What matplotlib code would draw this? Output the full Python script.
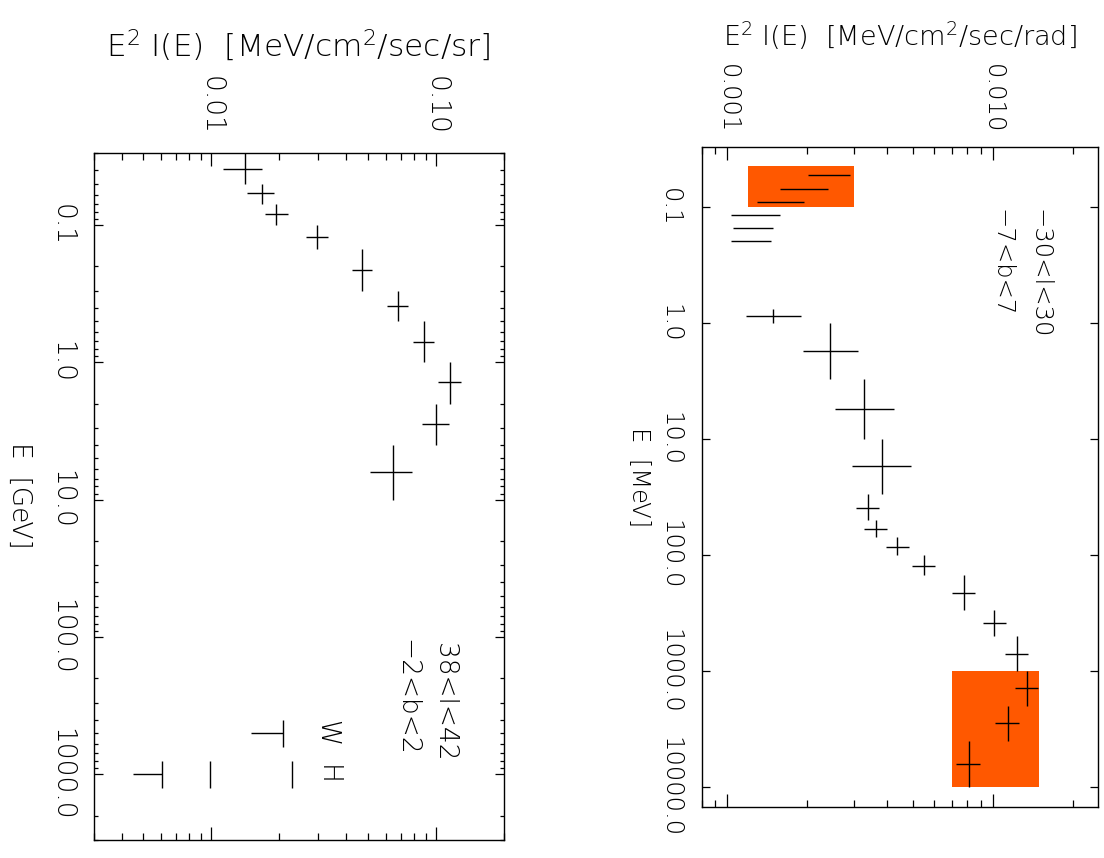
import numpy as np
import matplotlib.pyplot as plt
from matplotlib.ticker import LogLocator, NullLocator, NullFormatter

plt.rcParams['font.family'] = 'DejaVu Sans'
plt.rcParams['font.weight'] = 'light'

# ---- left panel: 38<l<42, -2<b<2, energies in GeV ----
gev_e = [0.039, 0.0588, 0.0836, 0.123, 0.212, 0.386, 0.71, 1.39, 2.8, 6.3]
gev_elo = [0.03, 0.05, 0.07, 0.1, 0.15, 0.3, 0.5, 1.0, 2.0, 4.0]
gev_ehi = [0.05, 0.07, 0.1, 0.15, 0.3, 0.5, 1.0, 2.0, 4.0, 10.0]
gev_flux = [0.0141, 0.0168, 0.0194, 0.0296, 0.0471, 0.0676, 0.0883, 0.1157, 0.100, 0.0645]
gev_flo = [0.0113, 0.0145, 0.0173, 0.0265, 0.0422, 0.0608, 0.0792, 0.1026, 0.0864, 0.051]
gev_fhi = [0.0169, 0.0191, 0.0219, 0.033, 0.052, 0.0752, 0.0982, 0.1287, 0.114, 0.0785]

# TeV upper limits (Whipple / HEGRA)
ul_flux = [0.0208, 0.0229, 0.0099, 0.00605]
ul_e = [500, 1000, 1000, 1000]
ul_elo = [400, 800, 800, 800]
ul_ehi = [630, 1250, 1250, 1250]
ul_tail = [0.0150, None, None, 0.00449]
ul_tags = ['W', 'H']
ul_tag_e = [500, 1000]

# ---- right panel: -30<l<30, -7<b<7, energies in MeV ----
mev_e = [0.87, 1.73, 5.5, 17.0, 39.5, 59.5, 84.5, 123.5, 214, 388, 714, 1413, 2835, 6370]
mev_elo = [0.75, 1.0, 3.0, 10, 30, 50, 70, 100, 150, 300, 500, 1000, 2000, 4000]
mev_ehi = [1.0, 3.0, 10, 30, 50, 70, 100, 150, 300, 500, 1000, 2000, 4000, 10000]
mev_flux = [0.00149, 0.00244, 0.00327, 0.00382, 0.00338, 0.00363, 0.00436,
            0.00551, 0.00776, 0.01015, 0.01234, 0.01347, 0.01138, 0.00812]
mev_flo = [0.00117, 0.00192, 0.00254, 0.00296, 0.00305, 0.00328, 0.00396,
           0.00497, 0.00703, 0.00916, 0.01114, 0.0121, 0.01023, 0.00724]
mev_fhi = [0.00189, 0.00311, 0.00425, 0.00494, 0.00374, 0.0040, 0.00482,
           0.00608, 0.00858, 0.0112, 0.01355, 0.01476, 0.01253, 0.00895]

# low energy flux ranges (no energy bars)
seg_e = [0.053, 0.069, 0.090, 0.117, 0.151, 0.197]
seg_lo = [0.00202, 0.00158, 0.00129, 0.00103, 0.00105, 0.00103]
seg_hi = [0.0029, 0.0024, 0.00195, 0.00158, 0.00148, 0.00146]

box_flux = [(0.0012, 0.003), (0.007, 0.015)]
box_e = [(0.044, 0.1), (1000, 10000)]
box_color = '#ff5800'

W, H = 1104, 858
fig = plt.figure(figsize=(W / 100, H / 100), dpi=100)


def frac(x0, y0, x1, y1):
    return [x0 / W, 1 - y1 / H, (x1 - x0) / W, (y1 - y0) / H]


def style(ax, fs, xmaj, xmin, ymaj, ymin, pad_x, pad_y):
    ax.set_xscale('log')
    ax.set_yscale('log')
    ax.tick_params(axis='x', which='both', direction='in', top=True, bottom=True,
                   labeltop=True, labelbottom=False, labelsize=fs, pad=pad_x,
                   width=0.9, labelrotation=-90)
    ax.tick_params(axis='y', which='both', direction='in', left=True, right=True,
                   labelleft=True, labelsize=fs, pad=pad_y, width=0.9)
    ax.tick_params(axis='x', which='major', length=xmaj)
    ax.tick_params(axis='x', which='minor', length=xmin)
    ax.tick_params(axis='y', which='major', length=ymaj)
    ax.tick_params(axis='y', which='minor', length=ymin)
    ax.xaxis.set_minor_locator(LogLocator(base=10, subs=np.arange(2, 10)))
    ax.xaxis.set_minor_formatter(NullFormatter())
    ax.yaxis.set_minor_formatter(NullFormatter())
    for sp in ax.spines.values():
        sp.set_linewidth(1.0)


def crosses(ax, flux, flo, fhi, e, elo, ehi):
    flux, e = np.array(flux), np.array(e)
    ax.errorbar(flux, e,
                xerr=[flux - np.array(flo), np.array(fhi) - flux],
                yerr=[e - np.array(elo), np.array(ehi) - e],
                fmt='none', ecolor='black', elinewidth=1.0, capsize=0, zorder=3)


# left panel
axl = fig.add_axes(frac(93.6, 153.3, 503.6, 840))
fs_l = 19
style(axl, fs_l, 9.4, 5, 6.2, 2.6, 13, 14)
axl.set_xlim(0.003, 0.2)
axl.set_ylim(3000, 0.03)
axl.set_xticks([0.01, 0.1], labels=['0.01', '0.10'])
axl.set_yticks([0.1, 1, 10, 100, 1000], labels=['0.1', '1.0', '10.0', '100.0', '1000.0'])
axl.yaxis.set_minor_locator(LogLocator(base=10, subs=np.arange(2, 10)))
plt.setp(axl.get_yticklabels(), rotation=-90, va='center')

crosses(axl, gev_flux, gev_flo, gev_fhi, gev_e, gev_elo, gev_ehi)
axl.vlines(ul_flux, ul_elo, ul_ehi, color='black', lw=1.0)
for f, e, t in zip(ul_flux, ul_e, ul_tail):
    if t is not None:
        axl.hlines(e, t, f, color='black', lw=1.0)
for tag, e in zip(ul_tags, ul_tag_e):
    axl.text(0.0328, e, tag, rotation=-90, ha='center', va='center', fontsize=fs_l)
axl.text(0.1092, 110, '38<l<42', rotation=-90, ha='center', va='top', fontsize=fs_l)
axl.text(0.0743, 104, '\u22122<b<2', rotation=-90, ha='center', va='top', fontsize=fs_l)

fig.text(298.6 / W, 1 - 45 / H, r'E$^2$ I(E)  [MeV/cm$^2$/sec/sr]',
         ha='center', va='center', fontsize=22.5)
fig.text(20 / W, 1 - 495 / H, 'E  [GeV]', rotation=-90, ha='center', va='center',
         fontsize=fs_l)

# right panel
axr = fig.add_axes(frac(701.7, 146.7, 1098.3, 807.3))
fs_r = 17.5
style(axr, fs_r, 9.4, 5, 5.6, 0, 9.5, 14)
axr.set_xlim(0.0008, 0.025)
axr.set_ylim(15000, 0.03)
axr.set_xticks([0.001, 0.01], labels=['0.001', '0.010'])
axr.set_yticks([0.1, 1, 10, 100, 1000, 10000],
               labels=['0.1', '1.0', '10.0', '100.0', '1000.0', '10000.0'])
axr.yaxis.set_minor_locator(NullLocator())
plt.setp(axr.get_yticklabels(), rotation=-90, va='center')

for (f0, f1), (e0, e1) in zip(box_flux, box_e):
    axr.fill([f0, f1, f1, f0], [e0, e0, e1, e1], color=box_color, lw=0, zorder=1)

crosses(axr, mev_flux, mev_flo, mev_fhi, mev_e, mev_elo, mev_ehi)
axr.hlines(seg_e, seg_lo, seg_hi, color='black', lw=1.0, zorder=3)
axr.text(0.01496, 0.104, '\u221230<l<30', rotation=-90, ha='center', va='top', fontsize=fs_r)
axr.text(0.0108, 0.104, '\u22127<b<7', rotation=-90, ha='center', va='top', fontsize=fs_r)

fig.text(900 / W, 1 - 35.5 / H, r'E$^2$ I(E)  [MeV/cm$^2$/sec/rad]',
         ha='center', va='center', fontsize=19.5)
fig.text(639 / W, 1 - 477 / H, 'E  [MeV]', rotation=-90, ha='center', va='center',
         fontsize=fs_r)

fig.savefig('out.png', dpi=100)
